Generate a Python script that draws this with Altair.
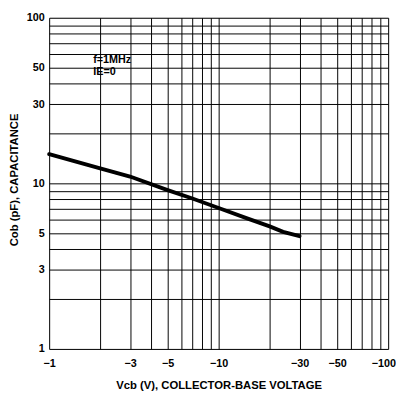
import altair as alt
import pandas as pd

# Curve data (|VCB| in volts, Cob in pF)
vcb = [1, 2, 3, 5, 7, 10, 15, 20, 24, 30]
cob = [15.0, 12.3, 11.0, 9.1, 8.1, 7.1, 6.1, 5.5, 5.1, 4.8]

# Grid / tick values
grid_vals = [1, 2, 3, 4, 5, 6, 7, 8, 9, 10, 20, 30, 40, 50, 60, 70, 80, 90, 100]
x_labels = [1, 3, 5, 10, 30, 50, 100]
y_labels = [1, 3, 5, 10, 30, 50, 100]

# Annotations
note_text = ["f=1MHz", "IE=0"]
note_x = [1.82, 1.82]
note_y = [55.7, 47.3]

FONT = "Liberation Sans"

curve_df = pd.DataFrame({"v": vcb, "c": cob})
note_df = pd.DataFrame({"v": note_x, "c": note_y, "t": note_text})

xscale = alt.Scale(type="log", domain=[1, 100], nice=False)
yscale = alt.Scale(type="log", domain=[1, 100], nice=False)

x_label_expr = "indexof(" + str(x_labels) + ", datum.value) >= 0 ? '\u2212' + datum.value : ''"
y_label_expr = "indexof(" + str(y_labels) + ", datum.value) >= 0 ? '' + datum.value : ''"

xaxis = alt.Axis(
    values=grid_vals, labelExpr=x_label_expr, grid=True, ticks=False, domain=False,
    gridColor="black", gridOpacity=1, gridWidth=1,
    labelOverlap=False, labelFlush=False, labelBound=False, labelPadding=9,
    labelOffset={"condition": {"test": "datum.value == 100", "value": -5}, "value": 0},
    labelFont=FONT, labelFontWeight="bold", labelFontSize=11, labelColor="black",
    title="Vcb (V), COLLECTOR-BASE VOLTAGE", titleFont=FONT, titleFontWeight="bold",
    titleFontSize=11.5, titleColor="black", titleY=37, titleBaseline="middle",
)
yaxis = alt.Axis(
    values=grid_vals, labelExpr=y_label_expr, grid=True, ticks=False, domain=False,
    gridColor="black", gridOpacity=1, gridWidth=1,
    labelOverlap=False, labelFlush=False, labelBound=False, labelPadding=5,
    labelFont=FONT, labelFontWeight="bold", labelFontSize=11, labelColor="black",
    title="Cob (pF), CAPACITANCE", titleFont=FONT, titleFontWeight="bold",
    titleFontSize=11.5, titleColor="black", titleX=-35, titleY=165,
    titleBaseline="middle", titleAlign="center",
)

line = alt.Chart(curve_df).mark_line(color="black", strokeWidth=4, strokeCap="round").encode(
    x=alt.X("v:Q", scale=xscale, axis=xaxis),
    y=alt.Y("c:Q", scale=yscale, axis=yaxis),
)

notes = alt.Chart(note_df).mark_text(
    align="left", baseline="middle", font=FONT, fontWeight="bold", fontSize=11, color="black"
).encode(
    x=alt.X("v:Q", scale=xscale),
    y=alt.Y("c:Q", scale=yscale),
    text="t:N",
)

chart = (
    alt.layer(line, notes)
    .properties(
        width=346, height=338,
        autosize=alt.AutoSizeParams(type="none"),
        padding={"left": 42, "top": 6, "right": 8, "bottom": 41},
    )
    .configure_view(stroke="black", strokeWidth=2, fill="white")
    .configure(background="white")
)

chart.save("out.html", embed_options={"renderer": "svg", "actions": False})
